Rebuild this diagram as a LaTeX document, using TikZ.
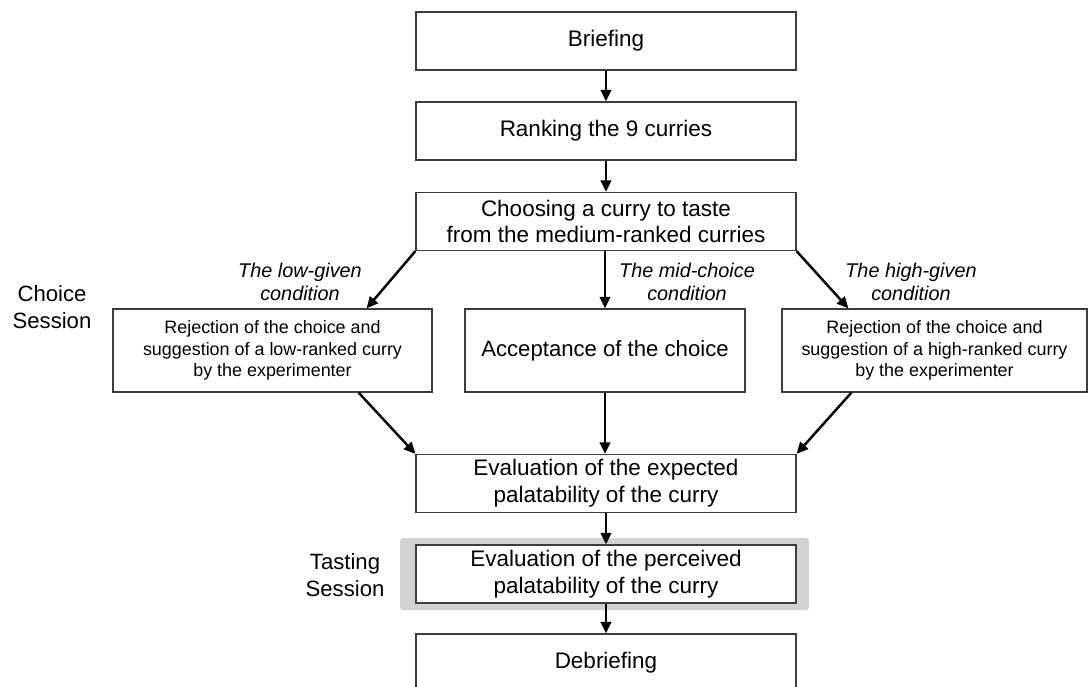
\documentclass[tikz,border=0pt]{standalone}
\usepackage{fontspec}
\setmainfont{Liberation Sans}
\usetikzlibrary{arrows.meta,calc,positioning}
\definecolor{boxline}{RGB}{60,60,60}
\definecolor{tastegray}{RGB}{210,210,210}

\begin{document}
\begin{tikzpicture}[x=0.02cm, y=-0.02cm, >={Triangle[length=0.23cm,width=0.21cm]}, line width=1.4pt,
    stagebox/.style={draw=boxline, line width=0.75pt, fill=white, minimum width=7.6cm, minimum height=1.16cm,
        inner sep=0pt, align=center, font=\fontsize{12.8}{15.3}\selectfont},
    condbox/.style={stagebox, minimum height=1.66cm, font=\fontsize{10.2}{12.3}\selectfont},
    condlabel/.style={align=center, font=\fontsize{11.3}{13.2}\selectfont\itshape},
    session/.style={align=center, font=\fontsize{12.6}{15.3}\selectfont}]
    \useasboundingbox (0,0) rectangle (1091,686);

    % Tasting background
    \fill[tastegray, rounded corners=0.06cm] (400,538) rectangle (809,610);

    % Stages
    \node[stagebox] (brief) at (606,41) {Briefing};
    \node[stagebox] (rank) at (606,131) {Ranking the 9 curries};
    \node[stagebox] (choose) at (606,221.5) {Choosing a curry to taste\\from the medium-ranked curries};
    \node[condbox, minimum width=6.38cm] (low) at (272.5,350.5) {Rejection of the choice and\\suggestion of a low-ranked curry\\by the experimenter};
    \node[condbox, minimum width=5.6cm, font=\fontsize{12.6}{15}\selectfont] (mid) at (605,350.5) {Acceptance of the choice};
    \node[condbox, minimum width=6.1cm] (high) at (934.5,350.5) {Rejection of the choice and\\suggestion of a high-ranked curry\\by the experimenter};
    \node[stagebox] (expect) at (606,483.5) {Evaluation of the expected\\palatability of the curry};
    \node[stagebox] (perceive) at (606,574) {Evaluation of the perceived\\palatability of the curry};
    \node[stagebox] (debrief) at (606,663) {Debriefing};

    % Labels
    \node[session] (choicesess) at (52,307.5) {Choice\\Session};
    \node[session] (tastesess) at (345,575) {Tasting\\Session};
    \node[condlabel] (lowlab) at (300,282) {The low-given\\condition};
    \node[condlabel] (midlab) at (687,282) {The mid-choice\\condition};
    \node[condlabel] (highlab) at (911,282) {The high-given\\condition};

    % Arrows
    \draw[->] (brief) -- (rank);
    \draw[->] (rank) -- (choose);
    \draw[->] (choose.south west) -- ($(low.north east)+(-66,0)$);
    \draw[->] (choose.south -| mid) -- (mid);
    \draw[->] (choose.south east) -- ($(high.north west)+(67,0)$);
    \draw[->] ($(low.south east)+(-74,0)$) -- (expect.north west);
    \draw[->] (mid) -- (expect.north -| mid);
    \draw[->] ($(high.south west)+(70,0)$) -- (expect.north east);
    \draw[->] (expect) -- (perceive);
    \draw[->] (perceive) -- (debrief);
\end{tikzpicture}
\end{document}
